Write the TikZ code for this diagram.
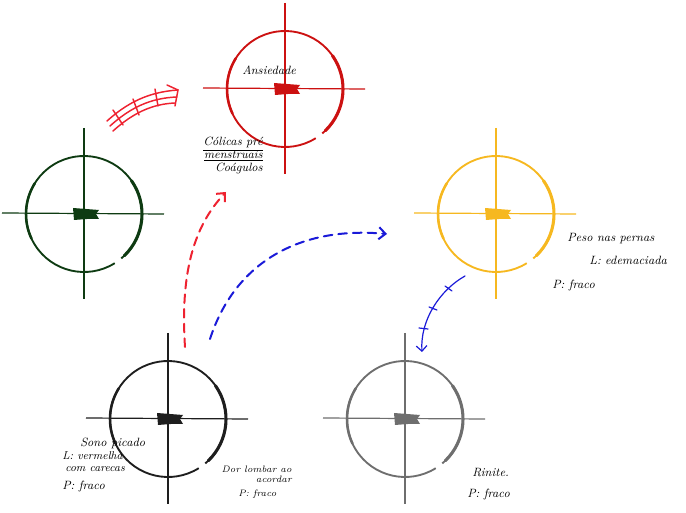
\documentclass[tikz,border=0pt]{standalone}
\usetikzlibrary{arrows.meta}
\definecolor{tred}{HTML}{CC1111}
\definecolor{tgreen}{HTML}{0E3B12}
\definecolor{tyellow}{HTML}{F6B820}
\definecolor{tblack}{HTML}{1E1E1E}
\definecolor{tgray}{HTML}{6E6E6E}
\definecolor{ared}{HTML}{EE2230}
\definecolor{ablue}{HTML}{1A1AD8}
\begin{document}
\begin{tikzpicture}[x=0.75pt,y=-0.75pt,
  lbl/.style={font=\itshape\fontsize{9}{9.75}\selectfont, inner sep=0pt, text=black},
  mlbl/.style={font=\itshape\fontsize{8.5}{9}\selectfont, inner sep=0pt, text=black},
  slbl/.style={font=\itshape\fontsize{7}{7.5}\selectfont, inner sep=0pt, text=black},
  dasharrow/.style={line width=1.5pt, line cap=round, dash pattern=on 6.5pt off 4.5pt,
     -{Straight Barb[length=5pt,width=9pt,line width=1.5pt]}},
  tickline/.style={line width=0.9pt, line cap=round},
  target/.pic={
    \coordinate (-c) at (0,0);
    \draw[line width=0.9pt] (0,-86) -- (0,85);
    \draw[line width=0.9pt] (-82,-1) -- (80,0);
    \draw[line width=1.4pt] (58:58) arc[start angle=58,end angle=410,radius=58];
    \draw[line width=2.3pt, line cap=round] (-35:58) arc[start angle=-35,end angle=46,radius=58];
    \draw[line width=1.9pt, line cap=round] (155:58) arc[start angle=155,end angle=212,radius=58];
    \fill (-11,-6) -- (2,-5) -- (15,-4) -- (12,0) -- (15,5) -- (3,5) -- (-10,6) -- cycle;
  }]
\useasboundingbox (0,0) rectangle (686,513);

% targets
\pic[color=tred]    (tA) at (285,89)  {target};
\pic[color=tgreen]  (tG) at (84,214)  {target};
\pic[color=tyellow] (tY) at (496,214) {target};
\pic[color=tblack]  (tK) at (168,419) {target};
\pic[color=tgray]   (tR) at (405,419) {target};

% labels
\node[lbl, anchor=west] (lA) at (242,70) {Ansiedade};
\node[lbl, anchor=north east, align=right] (lC) at (263,137) {\underline{Cólicas pré}\\\underline{menstruais}\\Coágulos};
\node[lbl, anchor=west] (lY1) at (567,239) {Peso nas pernas};
\node[lbl, anchor=west] (lY2) at (589,260) {L: edemaciada};
\node[lbl, anchor=west] (lY3) at (552,286) {P: fraco};
\node[lbl, anchor=west] (lK1) at (80,443) {Sono picado};
\node[mlbl, anchor=west] (lK2) at (62,455.5) {L: vermelha};
\node[mlbl, anchor=west] (lK3) at (65,469) {com carecas};
\node[lbl, anchor=west] (lK4) at (62,486) {P: fraco};
\node[slbl, anchor=north east, align=right] (lD1) at (292,466) {Dor lombar ao\\acordar};
\node[slbl, anchor=west] (lD2) at (238,494) {P: fraco};
\node[lbl, anchor=west] (lR1) at (472,473) {Rinite.};
\node[lbl, anchor=west] (lR2) at (467,495) {P: fraco};

% red triple arrow (green -> red)
\coordinate (t1s) at (107,121); \coordinate (t1e) at (178,90);
\coordinate (t2s) at (110,126); \coordinate (t2e) at (177,97);
\coordinate (t3s) at (113,131); \coordinate (t3e) at (175,103);
\begin{scope}[ared, line width=1.1pt, line cap=round]
  \draw (t1s) .. controls (127,103) and (148,92) .. (t1e);
  \draw (t2s) .. controls (130,108) and (150,98) .. (t2e);
  \draw (t3s) .. controls (133,113) and (152,104) .. (t3e);
  \draw (113,110) -- (123,125);
  \draw (133,99) -- (139,115);
  \draw (155,89) -- (158,106);
  \coordinate (hh1) at (167,85); \coordinate (hh2) at (175,106);
  \draw (hh1) -- (t1e) -- (hh2);
\end{scope}

% dashed arrows from black target
\coordinate (rs) at (185,347); \coordinate (re) at (226,192);
\draw[dasharrow, ared] (rs) .. controls (180,270) and (195,225) .. (re);
\coordinate (bs) at (210,339); \coordinate (be) at (387,234);
\draw[dasharrow, ablue] (bs) .. controls (235,262) and (300,226) .. (be);

% thin blue arrow yellow -> gray
\coordinate (ys) at (465,276); \coordinate (ye) at (422,352);
\draw[ablue, line width=0.9pt, line cap=round, -{Straight Barb[length=4pt,width=8pt,line width=0.9pt]}]
  (ys) .. controls (440,290) and (420,320) .. (ye);
\draw[ablue, tickline] (445,286) -- (452,291);
\draw[ablue, tickline] (429,307) -- (437,310);
\draw[ablue, tickline] (419,328) -- (428,329);
\end{tikzpicture}
\end{document}
